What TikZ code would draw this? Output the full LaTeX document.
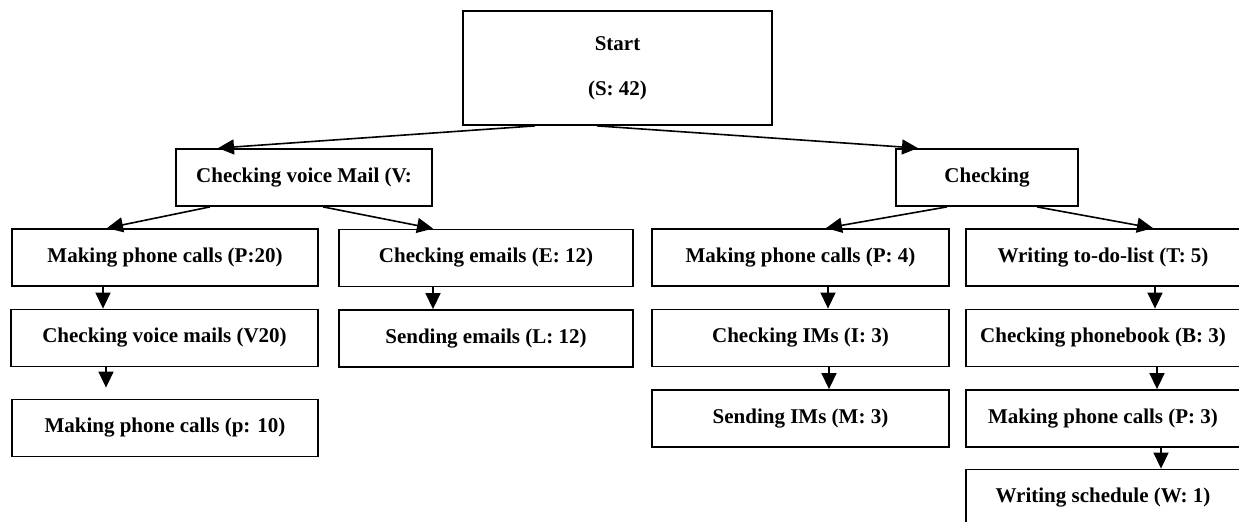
\documentclass[tikz,border=0pt]{standalone}
\usepackage{fontspec}
\setmainfont{Liberation Serif}
\usetikzlibrary{arrows.meta}
\tikzset{
	box/.style={draw,line width=0.9pt,rectangle,minimum height=28.5pt,inner sep=0pt,font=\fontsize{10.5}{12.6}\selectfont\bfseries},
	arr/.style={-{Triangle[length=8pt,width=7.5pt]},line width=0.8pt}
}
\begin{document}
\begin{tikzpicture}[x=0.5pt,y=-0.5pt]
	\useasboundingbox (0,0) rectangle (1239,522);
	\clip (0,0) rectangle (1239,522);
	\node[box,minimum width=154.5pt,minimum height=57pt,align=center] (start) at (617.5,68) {Start\\[10pt](S: 42)};
	\node[box,minimum width=128pt] (vmail) at (304,177.5) {Checking voice Mail (V:};
	\node[box,minimum width=91pt] (chk) at (987,177.5) {Checking};
	\node[box,minimum width=153pt] (callsA) at (165,257.5) {Making phone calls (P:20)};
	\node[box,minimum width=153.5pt] (vmails) at (164.5,338) {Checking voice mails (V20)};
	\node[box,minimum width=153pt] (callsB) at (165,428) {Making phone calls (p: 10)};
	\node[box,minimum width=147pt] (emails) at (486,258) {Checking emails (E: 12)};
	\node[box,minimum width=147pt] (sendmail) at (486,338.5) {Sending emails (L: 12)};
	\node[box,minimum width=148.5pt] (callsC) at (800.5,257.5) {Making phone calls (P: 4)};
	\node[box,minimum width=148.5pt] (ims) at (800.5,338) {Checking IMs (I: 3)};
	\node[box,minimum width=148.5pt] (sendims) at (800.5,418.5) {Sending IMs (M: 3)};
	\node[box,minimum width=137pt] (todo) at (1103,257.5) {Writing to-do-list (T: 5)};
	\node[box,minimum width=137pt] (book) at (1103,338) {Checking phonebook (B: 3)};
	\node[box,minimum width=137pt] (callsD) at (1103,418.5) {Making phone calls (P: 3)};
	\node[box,minimum width=137pt] (sched) at (1103,498) {Writing schedule (W: 1)};

	\draw[arr] ([xshift=-41.25pt]start.south) -- ([xshift=-43pt]vmail.north);
	\draw[arr] ([xshift=-10.25pt]start.south) -- ([xshift=-34.5pt]chk.north);
	\draw[arr] ([xshift=-47pt]vmail.south) -- ([xshift=-29pt]callsA.north);
	\draw[arr] ([xshift=9.5pt]vmail.south) -- ([xshift=-26.5pt]emails.north);
	\draw[arr] ([xshift=-20pt]chk.south) -- ([xshift=12.75pt]callsC.north);
	\draw[arr] ([xshift=25pt]chk.south) -- ([xshift=25pt]todo.north);
	\draw[arr] ([xshift=-31pt]callsA.south) -- ([xshift=-31pt]callsA.south |- vmails.north);
	\draw[arr,shorten >=5.5pt] ([xshift=-29.25pt]vmails.south) -- ([xshift=-29.25pt]vmails.south |- callsB.north);
	\draw[arr] ([xshift=-26.5pt]emails.south) -- ([xshift=-26.5pt]emails.south |- sendmail.north);
	\draw[arr] ([xshift=13.75pt]callsC.south) -- ([xshift=13.75pt]callsC.south |- ims.north);
	\draw[arr] ([xshift=14.25pt]ims.south) -- ([xshift=14.25pt]ims.south |- sendims.north);
	\draw[arr] ([xshift=26pt]todo.south) -- ([xshift=26pt]todo.south |- book.north);
	\draw[arr] ([xshift=27pt]book.south) -- ([xshift=27pt]book.south |- callsD.north);
	\draw[arr] ([xshift=29pt]callsD.south) -- ([xshift=29pt]callsD.south |- sched.north);
\end{tikzpicture}
\end{document}
